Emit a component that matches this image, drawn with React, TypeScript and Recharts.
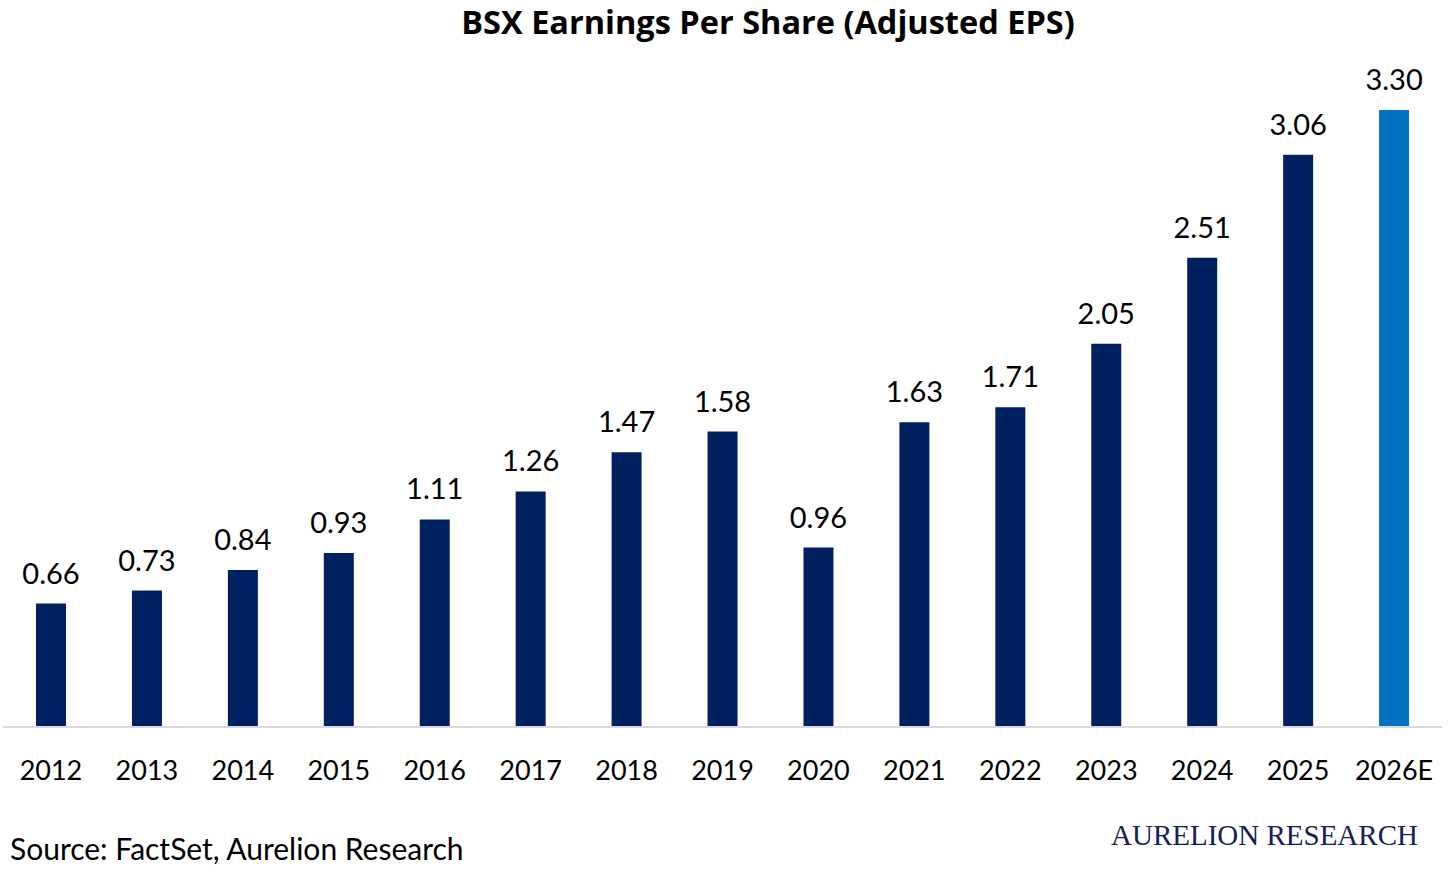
import { BarChart, Bar, XAxis, YAxis, Cell, LabelList } from 'recharts';

const years = ['2012', '2013', '2014', '2015', '2016', '2017', '2018', '2019', '2020', '2021', '2022', '2023', '2024', '2025', '2026E'];
const eps = [0.66, 0.73, 0.84, 0.93, 1.11, 1.26, 1.47, 1.58, 0.96, 1.63, 1.71, 2.05, 2.51, 3.06, 3.3];
const estimated = [false, false, false, false, false, false, false, false, false, false, false, false, false, false, true];

const chartData = years.map((year, i) => ({ year, eps: eps[i], estimate: estimated[i] }));

const FONT = 'Lato, "Open Sans", sans-serif';

export default function App() {
  return (
    <div style={{ position: 'absolute', left: 0, top: 0, width: 1456, height: 873, background: '#fff', fontFamily: FONT }}>
      <div
        style={{
          position: 'absolute',
          top: -1,
          left: 0,
          width: 1536,
          textAlign: 'center',
          fontSize: 32.5,
          fontWeight: 700,
          color: '#000',
          fontFamily: '"Open Sans", Lato, sans-serif',
        }}
      >
        BSX Earnings Per Share (Adjusted EPS)
      </div>
      <BarChart width={1456} height={873} data={chartData} margin={{ top: 110, right: 14, bottom: 106, left: 3 }} barSize={30}>
        <XAxis
          dataKey="year"
          height={40}
          tickLine={false}
          axisLine={{ stroke: '#d9d9d9', strokeWidth: 2 }}
          interval={0}
          tick={({ x, y, payload }: any) => (
            <text x={x} y={y + 45} textAnchor="middle" fontSize={27} fill="#000" fontFamily={FONT}>
              {payload.value}
            </text>
          )}
        />
        <YAxis hide domain={[0, 3.3]} />
        <Bar dataKey="eps" isAnimationActive={false}>
          {chartData.map((d) => (
            <Cell key={d.year} fill={d.estimate ? '#0070c0' : '#002060'} />
          ))}
          <LabelList
            dataKey="eps"
            position="top"
            offset={20}
            fontSize={29}
            fill="#000"
            fontFamily={FONT}
            formatter={(v: any) => Number(v).toFixed(2)}
          />
        </Bar>
      </BarChart>
      <div style={{ position: 'absolute', left: 10, top: 830, fontSize: 30, color: '#000' }}>
        Source: FactSet, Aurelion Research
      </div>
      <div
        style={{
          position: 'absolute',
          left: 1111,
          top: 819,
          fontSize: 29,
          color: '#14205a',
          fontFamily: '"Liberation Serif", "DejaVu Serif", serif',
        }}
      >
        AURELION RESEARCH
      </div>
    </div>
  );
}
